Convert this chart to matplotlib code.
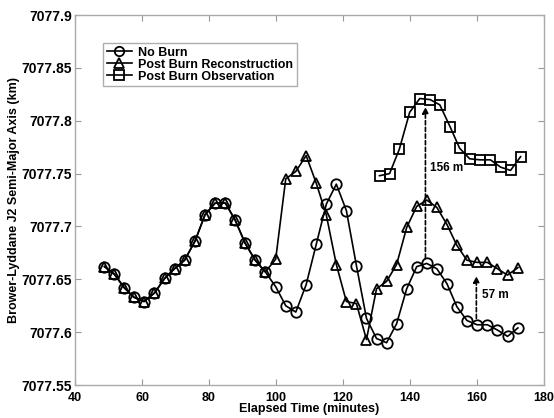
import matplotlib
matplotlib.use("Agg")
import matplotlib.pyplot as plt

plt.rcParams['font.family'] = ['Liberation Sans', 'DejaVu Sans']
plt.rcParams['font.weight'] = 'bold'

times = [48.8, 51.7, 54.7, 57.6, 60.6, 63.7, 66.8, 69.7, 72.7, 75.8, 78.8, 81.8,
         84.9, 87.8, 90.8, 93.8, 96.8, 99.9, 102.9, 105.9, 109.0, 112.0, 115.0,
         118.0, 121.0, 124.0, 127.0, 130.0, 133.0, 136.0, 139.0, 142.0, 145.0,
         148.0, 151.0, 154.0, 157.0, 160.0, 163.1, 166.1, 169.1, 172.2]

no_burn = [7077.662, 7077.655, 7077.642, 7077.633, 7077.629, 7077.637, 7077.651,
           7077.660, 7077.668, 7077.686, 7077.711, 7077.722, 7077.722, 7077.706,
           7077.684, 7077.668, 7077.657, 7077.643, 7077.625, 7077.619, 7077.645,
           7077.683, 7077.721, 7077.740, 7077.715, 7077.663, 7077.613, 7077.594,
           7077.590, 7077.608, 7077.641, 7077.662, 7077.665, 7077.660, 7077.646,
           7077.624, 7077.611, 7077.607, 7077.607, 7077.602, 7077.596, 7077.604]

reconstruction = [7077.662, 7077.655, 7077.642, 7077.633, 7077.629, 7077.637, 7077.651,
                  7077.660, 7077.668, 7077.686, 7077.711, 7077.722, 7077.722, 7077.706,
                  7077.684, 7077.668, 7077.657, 7077.669, 7077.745, 7077.752, 7077.767,
                  7077.741, 7077.711, 7077.664, 7077.629, 7077.627, 7077.593, 7077.641,
                  7077.648, 7077.664, 7077.699, 7077.719, 7077.725, 7077.718, 7077.702,
                  7077.682, 7077.668, 7077.666, 7077.666, 7077.660, 7077.654, 7077.661]

obs_times = [130.9, 133.9, 136.8, 139.9, 142.9, 146.0, 148.9, 152.0, 154.8, 157.8,
             160.9, 164.0, 167.1, 170.0, 173.0]
observation = [7077.748, 7077.750, 7077.773, 7077.808, 7077.821, 7077.820, 7077.815,
               7077.794, 7077.774, 7077.764, 7077.763, 7077.763, 7077.756, 7077.753,
               7077.766]

xticks = [40, 60, 80, 100, 120, 140, 160, 180]
yticks = [7077.55, 7077.6, 7077.65, 7077.7, 7077.75, 7077.8, 7077.85, 7077.9]
ytick_labels = ['7077.55', '7077.6', '7077.65', '7077.7', '7077.75', '7077.8', '7077.85', '7077.9']

fig = plt.figure(figsize=(5.54, 4.18), dpi=100)
ax = fig.add_axes([0.1354, 0.0789, 0.8466, 0.8852])

mk = dict(color='black', markerfacecolor='none', markeredgecolor='black',
          markersize=7.5, markeredgewidth=1.3, linewidth=1.2)
ax.plot(times, no_burn, marker='o', label='No Burn', **mk)
ax.plot(times, reconstruction, marker='^', label='Post Burn Reconstruction', **mk)
ax.plot(obs_times, observation, marker='s', label='Post Burn Observation', **mk)

# annotations
ax.annotate('', xy=(144.6, 7077.813), xytext=(144.6, 7077.670),
            arrowprops=dict(arrowstyle='-|>', linestyle=(0, (2.5, 1.5)), color='black',
                            lw=1.2, mutation_scale=9, shrinkA=0, shrinkB=0))
ax.text(146.0, 7077.755, '156 m', fontsize=8.5, fontweight='bold', va='center', ha='left')
ax.annotate('', xy=(159.8, 7077.653), xytext=(159.8, 7077.613),
            arrowprops=dict(arrowstyle='-|>', linestyle=(0, (2.5, 1.5)), color='black',
                            lw=1.2, mutation_scale=9, shrinkA=0, shrinkB=0))
ax.text(161.4, 7077.635, '57 m', fontsize=8.5, fontweight='bold', va='center', ha='left')

ax.set_xlim(40, 180)
ax.set_ylim(7077.55, 7077.9)
ax.set_xticks(xticks)
ax.set_xticklabels([str(t) for t in xticks])
ax.set_yticks(yticks)
ax.set_yticklabels(ytick_labels)
ax.tick_params(direction='in', top=True, right=True, length=4, color='#999999')
ax.tick_params(axis='x', pad=5, labelsize=9)
ax.tick_params(axis='y', pad=2, labelsize=10)
for s in ax.spines.values():
    s.set_color('#aaaaaa')
    s.set_linewidth(1.0)

ax.set_xlabel('Elapsed Time (minutes)', fontsize=9, fontweight='bold', labelpad=-1)
ax.set_ylabel('Brower-Lyddane J2 Semi-Major Axis (km)', fontsize=9, fontweight='bold', labelpad=1)

leg = ax.legend(loc='upper left', bbox_to_anchor=(0.06, 0.925), fontsize=9,
                frameon=True, fancybox=False, handlelength=2.0, handletextpad=0.5,
                labelspacing=0.0, borderpad=0.3, borderaxespad=0, markerscale=0.9)
leg.get_frame().set_edgecolor('#999999')
leg.get_frame().set_linewidth(1.0)

fig.savefig('out.png', dpi=100)
